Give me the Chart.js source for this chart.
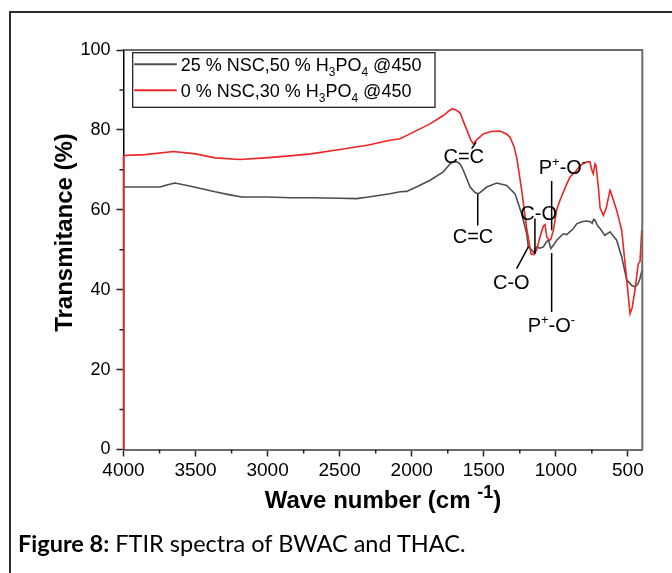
<!DOCTYPE html>
<html>
<head>
<meta charset="utf-8">
<script src="https://cdn.jsdelivr.net/npm/chart.js@4.4.1/dist/chart.umd.min.js"></script>
<style>
  html, body { margin: 0; padding: 0; background: #fff; }
  #wrap { position: relative; width: 672px; height: 573px; overflow: hidden; }
  #frame { position: absolute; left: 9px; top: 11px; width: 700px; height: 600px;
           border-left: 2px solid #2b2b2b; border-top: 2px solid #2b2b2b; }
  #chart { position: absolute; left: 0; top: 0; }
  #caption { position: absolute; left: 18px; top: 529px; font-family: Lato, 'Open Sans', sans-serif;
             font-size: 23.5px; color: #000; white-space: nowrap; }
</style>
</head>
<body>
<div id="wrap">
  <div id="frame"></div>
  <canvas id="chart" width="672" height="573"></canvas>
  <div id="caption"><b>Figure 8:</b> FTIR spectra of BWAC and THAC.</div>
</div>
<script>
// FTIR spectra
const xTicks = [4000, 3500, 3000, 2500, 2000, 1500, 1000, 500];
const xMinor = [3750, 3250, 2750, 2250, 1750, 1250, 750];
const yTicks = [0, 20, 40, 60, 80, 100];
const yMinor = [10, 30, 50, 70, 90];

// 25 % NSC, 50 % H3PO4 (gray)
const grayWave = [4000, 3747, 3700, 3643, 3550, 3450, 3365, 3270, 3180, 3000, 2845, 2700, 2500, 2382,
  2300, 2151, 2081, 2035, 1950, 1873, 1781, 1734, 1711, 1688, 1665, 1642, 1595, 1560, 1538, 1510,
  1480, 1410, 1341, 1283, 1260, 1237, 1202, 1191, 1167, 1150, 1133, 1110, 1087, 1065, 1051, 1035,
  1017, 994, 948, 924, 878, 855, 820, 786, 760, 748, 738, 728, 710, 693, 660, 624, 578, 543, 508,
  485, 474, 451, 430, 416, 405, 400];
const grayT = [65.7, 65.7, 66.2, 66.7, 66.0, 65.2, 64.5, 63.8, 63.2, 63.2, 63.0, 63.0, 62.9, 62.8,
  63.2, 64.0, 64.5, 64.6, 66.0, 67.4, 69.5, 71.5, 72.0, 72.0, 71.5, 69.9, 65.7, 64.3, 64.0, 64.8,
  65.7, 66.7, 66.1, 64.0, 61.5, 59.0, 54.0, 50.7, 49.9, 49.2, 50.7, 50.4, 50.7, 52.0, 52.4, 50.3,
  51.1, 52.4, 54.0, 53.8, 55.3, 56.5, 57.0, 57.2, 57.0, 56.6, 57.6, 57.4, 56.0, 55.3, 53.6, 54.5,
  52.4, 48.2, 42.4, 41.6, 41.1, 40.7, 41.5, 42.8, 44.5, 44.0];

// 0 % NSC, 30 % H3PO4 (red)
const redWave = [4000, 4000, 3850, 3654, 3500, 3365, 3192, 3018, 2845, 2700, 2498, 2300, 2151, 2081,
  2012, 1873, 1781, 1740, 1718, 1690, 1665, 1640, 1607, 1590, 1572, 1550, 1503, 1450, 1387, 1340,
  1318, 1290, 1271, 1237, 1202, 1172, 1150, 1133, 1110, 1087, 1075, 1063, 1045, 1035, 1017, 994,
  971, 924, 902, 855, 832, 786, 763, 751, 740, 728, 721, 705, 693, 670, 650, 624, 619, 578, 543,
  508, 485, 470, 451, 428, 416, 404];
const redT = [0, 73.6, 73.8, 74.6, 74.0, 73.0, 72.6, 73.0, 73.5, 74.0, 75.1, 76.2, 77.4, 77.8,
  79.0, 81.5, 83.6, 84.8, 85.3, 84.9, 84.3, 82.0, 79.0, 77.5, 76.5, 77.5, 79.0, 79.6, 79.7, 78.9,
  78.2, 75.8, 73.0, 64.9, 55.3, 49.0, 48.8, 50.0, 53.2, 55.9, 56.3, 53.2, 52.4, 52.6, 54.9, 60.0,
  62.4, 66.5, 68.2, 69.9, 71.1, 72.0, 72.0, 70.0, 69.0, 71.5, 71.1, 65.7, 60.5, 58.6, 60.5, 64.9,
  64.5, 59.9, 54.9, 42.4, 34.0, 35.5, 39.9, 46.5, 47.0, 54.9];

// rich text parts: [text, kind] with kind '' | 'sub' | 'sup'
const legendNames = [
  [['25 % NSC,50 % H', ''], ['3', 'sub'], ['PO', ''], ['4', 'sub'], [' @450', '']],
  [['0 % NSC,30 % H', ''], ['3', 'sub'], ['PO', ''], ['4', 'sub'], [' @450', '']]
];
const seriesColors = ['#4d4d4d', 'rgb(236,38,38)'];

// band assignments: label centre (wave, T) and leader lines [w1, t1, w2, t2]
const CC = [['C=C', '']];
const CO = [['C-O', '']];
const PO = [['P', ''], ['+', 'sup'], ['-O', ''], ['-', 'sup']];
const noteLabels = [
  { parts: CC, wave: 1639, t: 73.6 },
  { parts: CC, wave: 1575, t: 53.5 },
  { parts: CO, wave: 1119, t: 59.2 },
  { parts: CO, wave: 1309, t: 41.9 },
  { parts: PO, wave: 954, t: 70.7 },
  { parts: PO, wave: 1031, t: 31.2 }
];
const noteLines = [
  [1554, 76.9, 1584, 75.3],
  [1542, 63.9, 1542, 56.1],
  [1145, 57.8, 1145, 49.0],
  [1191, 50.7, 1272, 45.3],
  [1029, 67.2, 1029, 54.9],
  [1029, 49.2, 1029, 34.4]
];

const FONT = "'Liberation Sans', Arial, sans-serif";

function toPoints(xs, ys) {
  return xs.map((x, i) => ({ x: x, y: ys[i] }));
}

function partFont(kind, size, weight, supScale) {
  const s = kind ? Math.round(size * (supScale || 0.65)) : size;
  return `${weight || 'normal'} ${s}px ${FONT}`;
}

function richWidth(ctx, parts, size, weight, supScale) {
  let w = 0;
  parts.forEach(([t, k]) => {
    ctx.font = partFont(k, size, weight, supScale);
    w += ctx.measureText(t).width;
  });
  return w;
}

function drawRich(ctx, parts, x, y, size, align, weight, supScale) {
  let cx = align === 'center' ? x - richWidth(ctx, parts, size, weight, supScale) / 2 : x;
  parts.forEach(([t, k]) => {
    ctx.font = partFont(k, size, weight, supScale);
    let dy = 0;
    if (k === 'sub') dy = size * 0.3;
    if (k === 'sup') dy = -size * 0.42;
    ctx.fillText(t, cx, y + dy);
    cx += ctx.measureText(t).width;
  });
}

const decorPlugin = {
  id: 'decor',
  afterDraw(chart) {
    const { ctx, chartArea: a } = chart;
    const xs = chart.scales.x, ys = chart.scales.y;
    ctx.save();

    // top and right frame
    ctx.strokeStyle = '#6b6b6b';
    ctx.lineWidth = 2;
    ctx.beginPath();
    ctx.moveTo(a.left, a.top);
    ctx.lineTo(a.right, a.top);
    ctx.lineTo(a.right, a.bottom);
    ctx.stroke();

    // minor ticks
    ctx.strokeStyle = '#222';
    ctx.lineWidth = 1.5;
    ctx.beginPath();
    xMinor.forEach(v => {
      const px = xs.getPixelForValue(v);
      ctx.moveTo(px, a.bottom); ctx.lineTo(px, a.bottom + 4);
    });
    yMinor.forEach(v => {
      const py = ys.getPixelForValue(v);
      ctx.moveTo(a.left, py); ctx.lineTo(a.left - 4, py);
    });
    ctx.stroke();

    // axis titles
    ctx.fillStyle = '#000';
    ctx.textBaseline = 'alphabetic';
    ctx.textAlign = 'left';
    drawRich(ctx, [['Wave number (cm', ''], [' ', ''], ['-1', 'sup'], [')', '']],
      (a.left + a.right) / 2, 508, 24, 'center', 'bold', 0.75);
    ctx.save();
    ctx.translate(65, 232.5);
    ctx.rotate(-Math.PI / 2);
    ctx.font = `bold 24px ${FONT}`;
    ctx.textAlign = 'center';
    ctx.textBaseline = 'middle';
    ctx.fillText('Transmitance (%)', 0, 0);
    ctx.restore();

    // legend box
    const lx = a.left + 9.2, ly = a.top + 2.7;
    ctx.strokeStyle = '#111';
    ctx.lineWidth = 1.2;
    ctx.strokeRect(lx, ly, 302.3, 54.6);
    legendNames.forEach((parts, i) => {
      const base = ly + 18 + i * 26;
      ctx.strokeStyle = seriesColors[i];
      ctx.lineWidth = 2;
      ctx.beginPath();
      ctx.moveTo(lx + 1.5, base - 6.4);
      ctx.lineTo(lx + 44, base - 6.4);
      ctx.stroke();
      ctx.fillStyle = '#000';
      ctx.textAlign = 'left';
      drawRich(ctx, parts, lx + 48, base, 18, 'left');
    });

    // band annotations
    ctx.strokeStyle = '#000';
    ctx.lineWidth = 1.5;
    ctx.beginPath();
    noteLines.forEach(([w1, t1, w2, t2]) => {
      ctx.moveTo(xs.getPixelForValue(w1), ys.getPixelForValue(t1));
      ctx.lineTo(xs.getPixelForValue(w2), ys.getPixelForValue(t2));
    });
    ctx.stroke();
    ctx.fillStyle = '#000';
    noteLabels.forEach(n => {
      drawRich(ctx, n.parts, xs.getPixelForValue(n.wave), ys.getPixelForValue(n.t) + 7.2, 20, 'center');
    });

    ctx.restore();
  }
};

document.addEventListener('DOMContentLoaded', () => {
  const ctx = document.getElementById('chart').getContext('2d');

  new Chart(ctx, {
    type: 'line',
    data: {
      datasets: [
        {
          label: '0 % NSC,30 % H3PO4 @450',
          data: toPoints(redWave, redT),
          borderColor: seriesColors[1],
          borderWidth: 1.6,
          pointRadius: 0,
          tension: 0,
          clip: false
        },
        {
          label: '25 % NSC,50 % H3PO4 @450',
          data: toPoints(grayWave, grayT),
          borderColor: seriesColors[0],
          borderWidth: 1.6,
          pointRadius: 0,
          tension: 0,
          clip: false
        }
      ]
    },
    options: {
      responsive: false,
      animation: false,
      layout: { padding: { top: 50, right: 29.7, left: 0, bottom: 0 } },
      plugins: {
        legend: { display: false },
        tooltip: { enabled: false }
      },
      scales: {
        x: {
          type: 'linear',
          reverse: true,
          min: 400,
          max: 4000,
          afterBuildTicks: s => { s.ticks = xTicks.map(v => ({ value: v })); },
          afterFit: s => { s.height = 123.5; },
          grid: { display: true, drawOnChartArea: false, drawTicks: true, tickLength: 7, tickColor: '#222', tickWidth: 1.5 },
          border: { display: true, color: '#6b6b6b', width: 2 },
          ticks: { color: '#000', font: { family: FONT, size: 19 }, padding: 3, maxRotation: 0, autoSkip: false,
                   callback: v => String(v) }
        },
        y: {
          min: 0,
          max: 100,
          afterBuildTicks: s => { s.ticks = yTicks.map(v => ({ value: v })); },
          afterFit: s => { s.width = 123.5; },
          grid: { display: true, drawOnChartArea: false, drawTicks: true, tickLength: 7, tickColor: '#222', tickWidth: 1.5 },
          border: { display: true, color: '#000', width: 1.5 },
          ticks: { color: '#000', font: { family: FONT, size: 18 }, padding: 6,
                   callback: v => String(v) }
        }
      }
    },
    plugins: [decorPlugin]
  });
});
</script>
</body>
</html>
